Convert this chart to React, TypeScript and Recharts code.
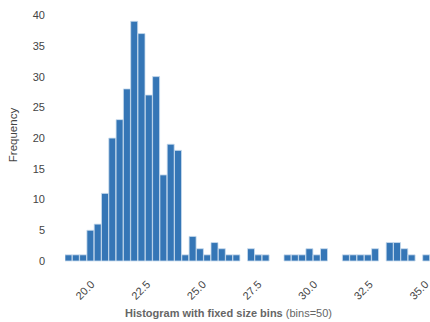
import React from 'react';
import { BarChart, Bar, XAxis, YAxis } from 'recharts';

// histogram counts, 50 fixed-size bins
const binStart = 19.1;
const binWidth = 0.328;
const counts = [
	1, 1, 1, 5, 6, 11, 20, 23, 28, 39,
	37, 27, 30, 14, 19, 18, 1, 4, 2, 1,
	3, 2, 1, 1, 0, 2, 1, 1, 0, 0,
	1, 1, 1, 2, 1, 2, 0, 0, 1, 1,
	1, 1, 2, 0, 3, 3, 2, 1, 0, 1,
];
const xTicks = [20, 22.5, 25, 27.5, 30, 32.5, 35];
const yTicks = [0, 5, 10, 15, 20, 25, 30, 35, 40];

const data = counts.map((count, i) => ({
	mid: binStart + (i + 0.5) * binWidth,
	count,
}));

const FONT = '"Liberation Sans", Arial, sans-serif';

const XTick = ({ x, y, payload }: any) => (
	<text
		x={0}
		y={0}
		transform={`translate(${x},${y + 21}) rotate(-45)`}
		textAnchor="middle"
		dominantBaseline="central"
		fontSize={11}
		fill="#444"
		fontFamily={FONT}>
		{Number(payload.value).toFixed(1)}
	</text>
);

const Title = ({ viewBox }: any) => (
	<text
		x={viewBox.x + viewBox.width / 2 - 19}
		y={313}
		textAnchor="middle"
		dominantBaseline="central"
		fontSize={11}
		fill="#666"
		fontFamily={FONT}>
		<tspan fontWeight="bold">Histogram with fixed size bins</tspan>
		<tspan> (bins=50)</tspan>
	</text>
);

const YTitle = () => (
	<text
		x={0}
		y={0}
		transform="translate(13,135) rotate(-90)"
		textAnchor="middle"
		dominantBaseline="central"
		fontSize={11.5}
		fill="#444"
		fontFamily={FONT}>
		Frequency
	</text>
);

export default function App() {
	return (
		<div style={{ position: 'absolute', left: 0, top: 0 }}>
			<BarChart
				width={430}
				height={322}
				data={data}
				barCategoryGap={0}
				barGap={0}
				margin={{ top: 9, right: 0, left: 0, bottom: 0 }}>
				<XAxis
					dataKey="mid"
					type="number"
					domain={[binStart, binStart + counts.length * binWidth]}
					allowDataOverflow
					ticks={xTicks}
					interval={0}
					height={61}
					axisLine={false}
					tickLine={false}
					tick={<XTick />}
					label={<Title />}
				/>
				<YAxis
					domain={[0, 41]}
					ticks={yTicks}
					interval={0}
					width={65}
					axisLine={false}
					tickLine={false}
					tickSize={0}
					tickMargin={20}
					tick={{ fontSize: 11, fill: '#444', fontFamily: FONT }}
					label={<YTitle />}
				/>
				<Bar
					dataKey="count"
					fill="#3576b6"
					stroke="#c9dcee"
					strokeWidth={0.8}
					isAnimationActive={false}
				/>
			</BarChart>
		</div>
	);
}
